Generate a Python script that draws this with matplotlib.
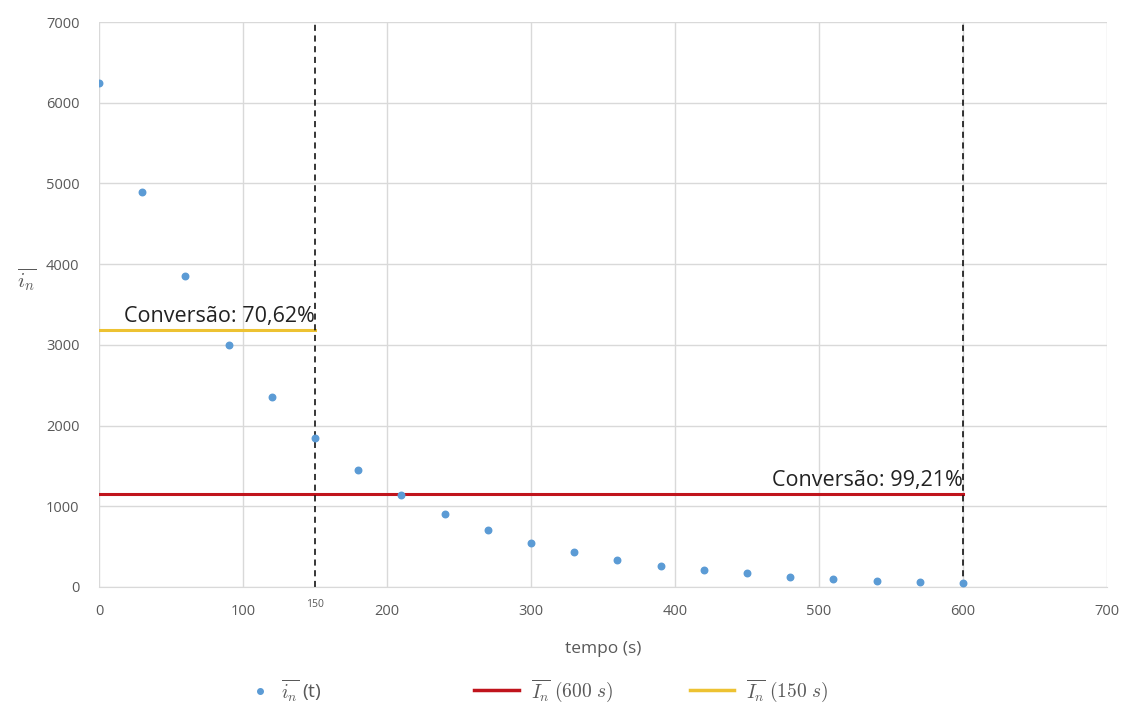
import matplotlib
matplotlib.use("Agg")
import matplotlib.pyplot as plt
from matplotlib.lines import Line2D

plt.rcParams['font.family'] = ['Open Sans', 'DejaVu Sans']
plt.rcParams['mathtext.fontset'] = 'cm'

# mean value over time, sampled every 30 s
tempo = [0, 30, 60, 90, 120, 150, 180, 210, 240, 270, 300,
         330, 360, 390, 420, 450, 480, 510, 540, 570, 600]
i_n = [6250, 4900, 3850, 3000, 2350, 1840, 1450, 1140, 900, 700, 550,
       435, 335, 265, 210, 172, 128, 98, 75, 60, 50]

# reference levels and conversions
t_600, I_600, conv_600 = 600, 1150, "99,21%"
t_150, I_150, conv_150 = 150, 3180, "70,62%"

blue = '#5B9BD5'
red = '#C0141C'
gold = '#EDC232'
grid_c = '#D9D9D9'
tick_c = '#595959'

fig = plt.figure(figsize=(11.27, 7.06), dpi=100)
ax = fig.add_axes([0.0878, 0.1686, 0.8945, 0.8002])

ax.scatter(tempo, i_n, s=22, color=blue, zorder=3)
ax.plot([0, t_600], [I_600, I_600], color=red, lw=2.2, zorder=2)
ax.plot([0, t_150], [I_150, I_150], color=gold, lw=2.2, zorder=2)

for t in (t_150, t_600):
    ax.plot([t, t], [0, 7000], color='black', lw=1.1, ls=(0, (4, 3)), zorder=2)

ax.text(t_150, I_150 + 40, f"Conversão: {conv_150}", ha='right', va='bottom',
        fontsize=15.5, color='#222222')
ax.text(t_600, I_600 + 40, f"Conversão: {conv_600}", ha='right', va='bottom',
        fontsize=15.5, color='#222222')

ax.set_xlim(0, 700)
ax.set_ylim(0, 7000)
ax.set_xticks(range(0, 701, 100))
ax.set_yticks(range(0, 7001, 1000))
ax.grid(True, color=grid_c, lw=1)
ax.set_axisbelow(True)
for side in ('top', 'right', 'left'):
    ax.spines[side].set_visible(False)
ax.spines['bottom'].set_color(grid_c)
ax.tick_params(axis='y', length=0, colors=tick_c, labelsize=10.5, pad=14)
ax.tick_params(axis='x', length=0, colors=tick_c, labelsize=10.5, pad=12)

ax.text(t_150, -150, "150", ha='center', va='top', fontsize=7.5, color=tick_c)

ax.set_xlabel("tempo (s)", fontsize=12.5, color=tick_c, labelpad=16)
ax.set_ylabel(r"$\overline{i_n}$", fontsize=15, color=tick_c, rotation=0)
ax.yaxis.set_label_coords(-0.072, 0.52)

# legend entries placed individually along the bottom
entries = [
    (Line2D([], [], ls='none', marker='o', ms=4, color=blue),
     r"$\overline{i_n}$ (t)", 0.222, 1.0),
    (Line2D([], [], color=red, lw=2.5),
     r"$\overline{I_n}$ $(600\ s)$", 0.421, 2.3),
    (Line2D([], [], color=gold, lw=2.5),
     r"$\overline{I_n}$ $(150\ s)$", 0.612, 2.3),
]
for handle, label, x0, hl in entries:
    leg = fig.legend([handle], [label], loc='center left',
                     bbox_to_anchor=(x0, 0.022), frameon=False, fontsize=14,
                     handlelength=hl, borderpad=0, borderaxespad=0,
                     handletextpad=0.6)
    for txt in leg.get_texts():
        txt.set_color(tick_c)

fig.savefig("out.png", dpi=100)
